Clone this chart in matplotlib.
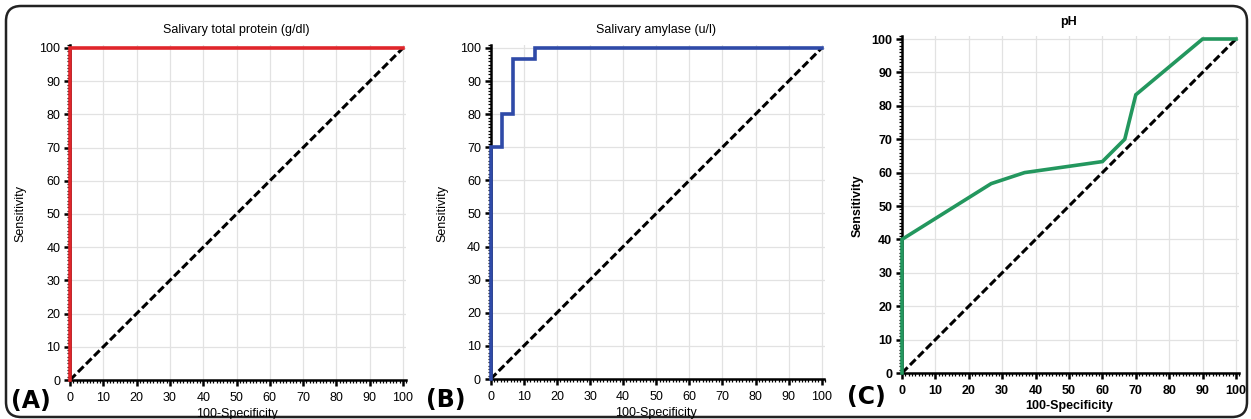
import matplotlib
matplotlib.use("Agg")
import matplotlib.pyplot as plt
from matplotlib.patches import FancyBboxPatch
from matplotlib.ticker import MultipleLocator

W, H = 1251, 419
fig = plt.figure(figsize=(W / 100, H / 100), dpi=100)

# ---- data ----
titles = ["Salivary total protein (g/dl)", "Salivary amylase (u/l)", "pH"]
panel_labels = ["(A)", "(B)", "(C)"]
x_label = "100-Specificity"
y_label = "Sensitivity"
ticks = [0, 10, 20, 30, 40, 50, 60, 70, 80, 90, 100]

protein_fpr = [0, 0, 100]
protein_tpr = [0, 100, 100]

amylase_fpr = [0, 0, 3.3, 3.3, 6.7, 6.7, 13.3, 13.3, 100]
amylase_tpr = [0, 70, 70, 80, 80, 96.7, 96.7, 100, 100]

ph_fpr = [0, 0, 26.7, 36.7, 60, 66.7, 70, 90, 100]
ph_tpr = [0, 40, 56.7, 60, 63.3, 70, 83.3, 100, 100]

ref_x = [0, 100]
ref_y = [0, 100]

series = [(protein_fpr, protein_tpr, "#e0262b"),
          (amylase_fpr, amylase_tpr, "#2f4aa8"),
          (ph_fpr, ph_tpr, "#23975e")]

# pixel geometry: (x0, x100, y0, y100)
geo = [(70, 403, 380, 48), (490.7, 821.7, 379, 48), (902, 1236, 373, 39)]
bold = [False, False, True]
title_y = [30, 30, 22]
xlabel_y = [414, 413, 406]
ylabel_x = [20, 442, 858]
plabel_pos = [(31, 401), (446, 400), (866, 397)]

LIM = 101.0
FS = 9

for i in range(3):
    x0, x100, y0, y100 = geo[i]
    sx = (x100 - x0) / 100.0
    sy = (y0 - y100) / 100.0
    left = x0 / W
    bottom = 1 - y0 / H
    ax = fig.add_axes([left, bottom, sx * LIM / W, sy * LIM / H])
    ax.set_xlim(0, LIM)
    ax.set_ylim(0, LIM)
    fw = "bold" if bold[i] else "normal"
    ax.set_xticks(ticks)
    ax.set_yticks(ticks)
    ax.xaxis.set_minor_locator(MultipleLocator(1))
    ax.yaxis.set_minor_locator(MultipleLocator(1))
    ax.tick_params(which="major", direction="out", length=4, width=1.8,
                   labelsize=FS, color="black")
    ax.tick_params(axis="x", which="major", pad=4.5)
    ax.tick_params(axis="y", which="major", pad=3)
    ax.tick_params(which="minor", direction="out", length=2.4, width=0.9, color="black")
    for lab in ax.get_xticklabels() + ax.get_yticklabels():
        lab.set_fontweight(fw)
        lab.set_fontfamily("Liberation Sans")
    for s in ["top", "right"]:
        ax.spines[s].set_visible(False)
    for s in ["left", "bottom"]:
        ax.spines[s].set_linewidth(1.8)
        ax.spines[s].set_bounds(0, 100.8)
    ax.grid(True, which="major", color="#e2e2e2", linewidth=0.9)
    ax.set_axisbelow(True)
    ax.plot(ref_x, ref_y, color="black", linewidth=2.2, dashes=(2.6, 1.1),
            clip_on=False, zorder=3)
    fx, fy, col = series[i]
    ax.plot(fx, fy, color=col, linewidth=2.6, clip_on=False, zorder=4,
            solid_joinstyle="miter")

    cx = (x0 + x100) / 2
    fig.text(cx / W, 1 - title_y[i] / H, titles[i], ha="center", va="center",
             fontsize=FS, fontweight=fw, family="Liberation Sans")
    fig.text(cx / W, 1 - xlabel_y[i] / H, x_label, ha="center", va="center",
             fontsize=FS, fontweight=fw, family="Liberation Sans")
    fig.text(ylabel_x[i] / W, 1 - (y0 + y100) / 2 / H, y_label, ha="center",
             va="center", rotation=90, fontsize=FS, fontweight=fw,
             family="Liberation Sans")
    px, py = plabel_pos[i]
    fig.text(px / W, 1 - py / H, panel_labels[i], ha="center", va="center",
             fontsize=17, fontweight="bold", family="DejaVu Sans")

# outer rounded border
bx0, by0, bx1, by1 = 6, 6, 1247, 417
box = FancyBboxPatch((bx0 / W, 1 - by1 / H), (bx1 - bx0) / W, (by1 - by0) / H,
                     boxstyle="round,pad=0,rounding_size=0.012",
                     transform=fig.transFigure, fill=False,
                     edgecolor="#222222", linewidth=1.8, mutation_aspect=W / H)
fig.patches.append(box)

fig.savefig("out.png", dpi=100)
